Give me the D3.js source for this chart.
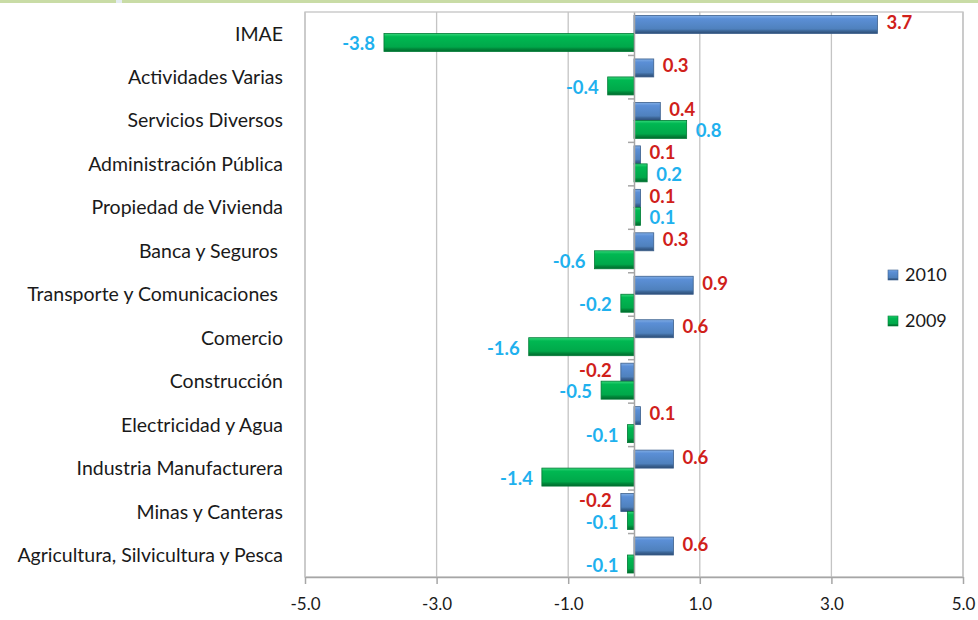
<!DOCTYPE html>
<html>
<head>
<meta charset="utf-8">
<script src="https://cdn.jsdelivr.net/npm/d3@7"></script>
<style>
  body { margin: 0; background: #fff; }
  svg { display: block; font-family: Lato, "Open Sans", sans-serif; }
</style>
</head>
<body>
<svg id="drawing_region"></svg>
<script>
// chart data
const categories = [
    "IMAE",
    "Actividades Varias",
    "Servicios Diversos",
    "Administración Pública",
    "Propiedad de Vivienda",
    "Banca y Seguros ",
    "Transporte y Comunicaciones ",
    "Comercio",
    "Construcción",
    "Electricidad y Agua",
    "Industria Manufacturera",
    "Minas y Canteras",
    "Agricultura, Silvicultura y Pesca"
];
const values2010 = [3.7, 0.3, 0.4, 0.1, 0.1, 0.3, 0.9, 0.6, -0.2, 0.1, 0.6, -0.2, 0.6];
const values2009 = [-3.8, -0.4, 0.8, 0.2, 0.1, -0.6, -0.2, -1.6, -0.5, -0.1, -1.4, -0.1, -0.1];
const seriesNames = ["2010", "2009"];
const xTicks = [-5.0, -3.0, -1.0, 1.0, 3.0, 5.0];

const config = {
    width: 978,
    height: 620,
    margin: {top: 12, right: 15, bottom: 43, left: 305}
};

// excel style numbers with a plain hyphen
const fmt = v => d3.format('.1f')(v).replace('\u2212', '-');

const svg = d3.select('#drawing_region')
    .attr('width', config.width)
    .attr('height', config.height);

// decorative strip on top
svg.append('rect').attr('x', 0).attr('y', 0).attr('width', 978).attr('height', 3).attr('fill', '#c9dca6');
svg.append('rect').attr('x', 116).attr('y', 0).attr('width', 6).attr('height', 3).attr('fill', '#e4ecf2');

const inner_width = config.width - config.margin.left - config.margin.right;
const inner_height = config.height - config.margin.top - config.margin.bottom;

const chart = svg.append('g')
    .attr('transform', `translate(${config.margin.left}, ${config.margin.top})`);

const xscale = d3.scaleLinear()
    .domain([-5, 5])
    .range([0, inner_width]);

const yscale = d3.scaleBand()
    .domain(categories)
    .range([0, inner_height])
    .paddingInner(0)
    .paddingOuter(0);

const sub = d3.scaleBand()
    .domain(seriesNames)
    .range([3.5, yscale.bandwidth() - 4])
    .padding(0);

// gradients for the bevelled bars
const defs = svg.append('defs');
function grad(id, stops) {
    const g = defs.append('linearGradient').attr('id', id)
        .attr('x1', 0).attr('y1', 0).attr('x2', 0).attr('y2', 1);
    stops.forEach(s => g.append('stop').attr('offset', s[0]).attr('stop-color', s[1]));
}
grad('g2010', [[0, '#82aee6'], [0.18, '#5b8fd6'], [0.75, '#4f81bd'], [0.85, '#3d6799'], [1, '#2c4c74']]);
grad('g2009', [[0, '#35d77a'], [0.18, '#00b852'], [0.75, '#00a84a'], [0.85, '#008a3b'], [1, '#006a2d']]);

// gridlines
chart.append('g')
    .selectAll('line')
    .data(xTicks)
    .join('line')
    .attr('x1', d => xscale(d)).attr('x2', d => xscale(d))
    .attr('y1', 0).attr('y2', inner_height)
    .attr('stroke', '#c4c4c4')
    .attr('stroke-width', 1.3);

// plot frame
chart.append('rect')
    .attr('x', 0).attr('y', 0)
    .attr('width', inner_width).attr('height', inner_height)
    .attr('fill', 'none')
    .attr('stroke', '#c4c4c4')
    .attr('stroke-width', 1.3);

// x axis
const xaxis = d3.axisBottom(xscale)
    .tickValues(xTicks)
    .tickFormat(fmt)
    .tickSize(7)
    .tickSizeOuter(0)
    .tickPadding(14);

const xaxis_group = chart.append('g')
    .attr('transform', `translate(0, ${inner_height})`)
    .call(xaxis);
xaxis_group.select('.domain').attr('stroke', '#a6a6a6').attr('stroke-width', 1.5);
xaxis_group.selectAll('.tick line').attr('stroke', '#a6a6a6').attr('stroke-width', 1.5);
xaxis_group.selectAll('.tick text')
    .attr('fill', '#1a1a1a')
    .style('font-size', '17px')
    .style('font-family', 'Lato, sans-serif');

// bars
const series = [
    {name: "2010", values: values2010, fill: 'url(#g2010)', stroke: '#3b5f8c', label: '#d0201a', shift: -2},
    {name: "2009", values: values2009, fill: 'url(#g2009)', stroke: '#007a35', label: '#1fb1ee', shift: 1.5}
];

series.forEach(s => {
    const rows = categories.map((c, i) => ({cat: c, v: s.values[i]}));
    chart.append('g')
        .selectAll('rect')
        .data(rows)
        .join('rect')
        .attr('x', d => xscale(Math.min(0, d.v)))
        .attr('y', d => yscale(d.cat) + sub(s.name))
        .attr('width', d => Math.abs(xscale(d.v) - xscale(0)))
        .attr('height', sub.bandwidth())
        .attr('fill', s.fill)
        .attr('stroke', s.stroke)
        .attr('stroke-width', 0.8);

    chart.append('g')
        .selectAll('text')
        .data(rows)
        .join('text')
        .attr('x', d => d.v >= 0 ? xscale(d.v) + 9 : xscale(d.v) - 9)
        .attr('y', d => yscale(d.cat) + sub(s.name) + sub.bandwidth() / 2 + s.shift)
        .attr('dy', '0.35em')
        .attr('text-anchor', d => d.v >= 0 ? 'start' : 'end')
        .attr('fill', s.label)
        .style('font-size', '18.5px')
        .style('font-weight', 'bold')
        .text(d => fmt(d.v));
});

// category axis at zero
const yaxis = d3.axisLeft(yscale)
    .tickSize(0)
    .tickFormat('');
const yaxis_group = chart.append('g')
    .attr('transform', `translate(${xscale(0)}, 0)`)
    .call(yaxis);
yaxis_group.select('.domain').attr('stroke', '#a6a6a6').attr('stroke-width', 1.5);
yaxis_group.selectAll('.sep')
    .data(categories.slice(1))
    .join('line')
    .attr('class', 'sep')
    .attr('x1', -6).attr('x2', 0)
    .attr('y1', d => yscale(d)).attr('y2', d => yscale(d))
    .attr('stroke', '#a6a6a6')
    .attr('stroke-width', 1.5);

// category labels
chart.append('g')
    .selectAll('text')
    .data(categories)
    .join('text')
    .attr('x', -22)
    .attr('y', d => yscale(d) + yscale.bandwidth() / 2)
    .attr('dy', '0.35em')
    .attr('text-anchor', 'end')
    .attr('fill', '#1a1a1a')
    .style('font-size', '19.5px')
    .style('white-space', 'pre')
    .text(d => d);

// legend
const legend = svg.append('g').attr('transform', 'translate(888, 270)');
series.forEach((s, i) => {
    const row = legend.append('g').attr('transform', `translate(0, ${i * 46})`);
    row.append('rect')
        .attr('width', 10).attr('height', 10)
        .attr('fill', s.fill).attr('stroke', s.stroke).attr('stroke-width', 0.6);
    row.append('text')
        .attr('x', 17).attr('y', 5).attr('dy', '0.35em')
        .attr('fill', '#1a1a1a')
        .style('font-size', '18px')
        .text(s.name);
});
</script>
</body>
</html>
